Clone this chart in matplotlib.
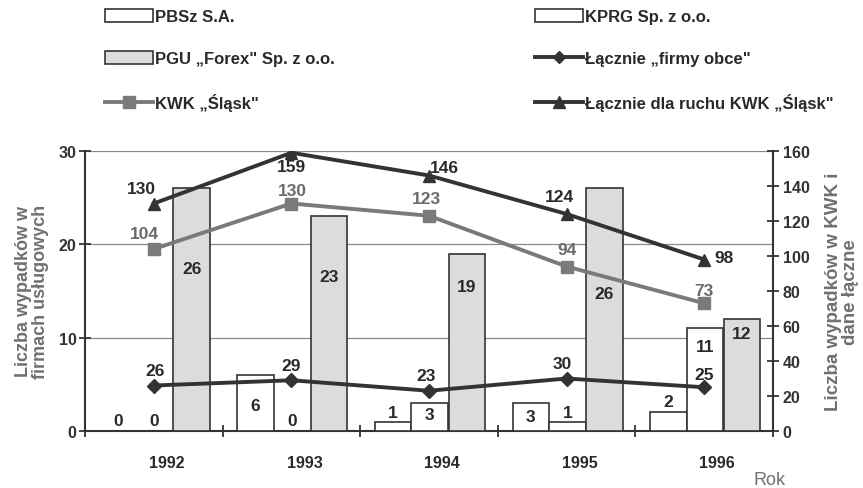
import matplotlib
matplotlib.use("Agg")
import matplotlib.pyplot as plt
from matplotlib.patches import Patch
from matplotlib.lines import Line2D
from matplotlib.transforms import ScaledTranslation
import numpy as np

plt.rcParams['font.family'] = ['Liberation Sans', 'DejaVu Sans']

years = ["1992", "1993", "1994", "1995", "1996"]
pbsz = [0, 6, 1, 3, 2]
kprg = [0, 0, 3, 1, 11]
pgu = [26, 23, 19, 26, 12]
firmy_obce = [26, 29, 23, 30, 25]
kwk = [104, 130, 123, 94, 73]
lacznie_ruch = [130, 159, 146, 124, 98]

# label placement (style)
pbsz_lab_y = [1.1, 2.7, 2.0, 1.6, 3.2]
kprg_lab_y = [1.1, 1.1, 1.8, 2.0, 9.1]
pgu_lab_y = [17.4, 16.6, 15.5, 14.7, 10.4]
tri_off = [(-12, 15), (0, -14), (15, 8), (-7, 17), (20, 2)]
sq_off = [(-9, 15), (1, 13), (-3, 17), (0, 17), (0, 13)]
dia_off = [(1, 15), (0, 15), (-3, 15), (-4, 15), (0, 13)]

W, H = 863, 489
fig = plt.figure(figsize=(W / 100, H / 100), dpi=100)
ax = fig.add_axes([85 / W, 1 - 432 / H, (773 - 85) / W, (432 - 152) / H])
ax2 = ax.twinx()

x = np.arange(len(years))
bw = 0.265
offs = [-0.26, 0.005, 0.275]
edge = '#333333'
txt = '#2a2a2a'
ax.bar(x + offs[0], pbsz, bw, color='white', edgecolor=edge, lw=1.2, zorder=3)
ax.bar(x + offs[1], kprg, bw, color='white', edgecolor=edge, lw=1.2, zorder=3)
ax.bar(x + offs[2], pgu, bw, color='#dcdcdc', edgecolor=edge, lw=1.2, zorder=3)

nfont = dict(fontsize=12.5, fontweight='bold', color=txt, ha='center', va='center')
for i in range(len(years)):
    ax.text(x[i] + offs[0], pbsz_lab_y[i], str(pbsz[i]), zorder=5, **nfont)
    ax.text(x[i] + offs[1], kprg_lab_y[i], str(kprg[i]), zorder=5, **nfont)
    ax.text(x[i] + offs[2], pgu_lab_y[i], str(pgu[i]), zorder=5, **nfont)

ax.set_xlim(-0.5, 4.5)
ax.set_ylim(0, 30)
ax2.set_ylim(0, 160)

dark = '#333333'
gray = '#7a7a7a'
ax2.plot(x, lacznie_ruch, color=dark, lw=2.8, marker='^', ms=9, zorder=4)
ax2.plot(x, kwk, color=gray, lw=2.8, marker='s', ms=8, zorder=4)
ax2.plot(x, firmy_obce, color=dark, lw=2.8, marker='D', ms=7, zorder=4)

for i in range(len(years)):
    ax2.annotate(str(lacznie_ruch[i]), (x[i], lacznie_ruch[i]), xytext=tri_off[i],
                 textcoords='offset pixels', **nfont)
    ax2.annotate(str(kwk[i]), (x[i], kwk[i]), xytext=sq_off[i],
                 textcoords='offset pixels', **{**nfont, 'color': '#6a6a6a'})
    ax2.annotate(str(firmy_obce[i]), (x[i], firmy_obce[i]), xytext=dia_off[i],
                 textcoords='offset pixels', **nfont)

# grid
for v in [10, 20, 30]:
    ax.axhline(v, color='#8a8a8a', lw=0.9, zorder=1)

for a in (ax, ax2):
    a.spines['top'].set_visible(False)
ax.spines['right'].set_visible(False)
ax.spines['left'].set_color(dark)
ax.spines['bottom'].set_color(dark)
ax2.spines['right'].set_color(dark)
ax2.spines['left'].set_visible(False)
ax2.spines['bottom'].set_visible(False)
for s in ('left', 'bottom'):
    ax.spines[s].set_linewidth(1.5)
ax2.spines['right'].set_linewidth(1.5)

ax.set_yticks([0, 10, 20, 30])
ax.tick_params(axis='y', direction='inout', length=8, width=1.3, colors=dark,
               labelsize=11.5, pad=2)
for lab in ax.get_yticklabels():
    lab.set_fontweight('bold')
ax2.set_yticks(range(0, 161, 20))
ax2.tick_params(axis='y', direction='inout', length=8, width=1.3, colors=dark,
                labelsize=11.5, pad=3)
for lab in ax2.get_yticklabels():
    lab.set_fontweight('bold')

ax.set_xticks(np.arange(-0.5, 4.6, 1.0))
ax.set_xticklabels([])
ax.tick_params(axis='x', which='major', direction='inout', length=9, width=1.3, colors=dark)
ax.set_xticks(x, minor=True)
ax.set_xticklabels(years, minor=True)
ax.tick_params(axis='x', which='minor', length=0, pad=17, labelsize=11.5, labelcolor=txt)
for lab in ax.get_xticklabels(minor=True):
    lab.set_fontweight('bold')
    lab.set_transform(lab.get_transform() + ScaledTranslation(13 / 100, 0, fig.dpi_scale_trans))

fig.text(32 / W, 1 - 292 / H, "Liczba wypadków w\nfirmach usługowych", rotation=90,
         ha='center', va='center', fontsize=13, fontweight='bold', color='#707070',
         linespacing=1.0)
fig.text(842 / W, 1 - 292 / H, "Liczba wypadków w KWK i\ndane łączne", rotation=90,
         ha='center', va='center', fontsize=13.5, fontweight='bold', color='#707070',
         linespacing=1.0)
fig.text(770 / W, 1 - 481 / H, "Rok", ha='center', va='center', fontsize=13, color='#707070')

# legends
h_pbsz = Patch(facecolor='white', edgecolor=edge, lw=1.2)
h_kprg = Patch(facecolor='white', edgecolor=edge, lw=1.2)
h_pgu = Patch(facecolor='#dcdcdc', edgecolor=edge, lw=1.2)
h_kwk = Line2D([], [], color=gray, lw=2.8, marker='s', ms=8)
h_fo = Line2D([], [], color=dark, lw=2.8, marker='D', ms=6)
h_lr = Line2D([], [], color=dark, lw=2.8, marker='^', ms=8)

lkw = dict(frameon=False, fontsize=12, handlelength=2.9, handleheight=0.8,
           handletextpad=0.1, labelspacing=1.6, borderaxespad=0, borderpad=0)
leg1 = fig.legend([h_pbsz, h_pgu, h_kwk],
                  ["PBSz S.A.", "PGU „Forex\" Sp. z o.o.", "KWK „Śląsk\""],
                  loc='upper left', bbox_to_anchor=(105 / W, 1 - 10 / H), **lkw)
leg2 = fig.legend([h_kprg, h_fo, h_lr],
                  ["KPRG Sp. z o.o.", "Łącznie „firmy obce\"", "Łącznie dla ruchu KWK „Śląsk\""],
                  loc='upper left', bbox_to_anchor=(535 / W, 1 - 10 / H), **lkw)
for lg in (leg1, leg2):
    for t in lg.get_texts():
        t.set_fontweight('bold')
        t.set_color(txt)

fig.savefig("out.png", dpi=100)
